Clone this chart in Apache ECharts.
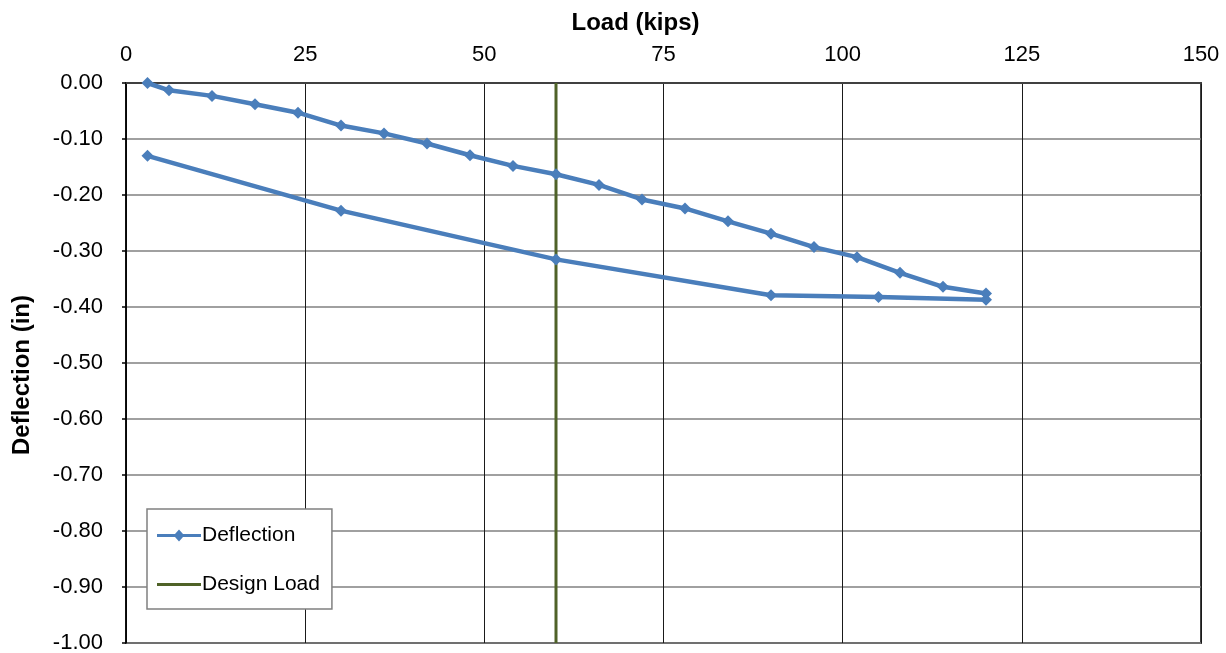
<!DOCTYPE html>
<html><head><meta charset="utf-8">
<script src="https://cdn.jsdelivr.net/npm/echarts@6/dist/echarts.min.js"></script>
<style>html,body{margin:0;padding:0;background:#fff}#c{width:1226px;height:653px}</style>
</head><body><div id="c"></div>
<script>
const loadKips = [3, 6, 12, 18, 24, 30, 36, 42, 48, 54, 60, 66, 72, 78, 84, 90, 96, 102, 108, 114, 120, 120, 105, 90, 60, 30, 3];
const deflectionIn = [0.000, -0.013, -0.023, -0.038, -0.053, -0.076, -0.090, -0.108, -0.129, -0.148, -0.163, -0.182, -0.208, -0.224, -0.247, -0.269, -0.293, -0.311, -0.339, -0.364, -0.376, -0.387, -0.382, -0.379, -0.315, -0.228, -0.130];
const designLoadX = [60, 60];
const designLoadY = [0, -1];
const xTicks = [0, 25, 50, 75, 100, 125, 150];

const chart = echarts.init(document.getElementById('c'));
const font = 'Liberation Sans, Arial, sans-serif';
chart.setOption({
  animation: false,
  grid: {left: 126, right: 25, top: 83, bottom: 10, outerBoundsMode: 'none', containLabel: false,
         show: true, borderColor: '#404040', borderWidth: 2, backgroundColor: 'transparent'},
  xAxis: {
    type: 'value', position: 'top', min: xTicks[0], max: xTicks[xTicks.length-1], interval: 25,
    name: 'Load (kips)', nameLocation: 'middle', nameGap: 48,
    nameTextStyle: {fontFamily: font, fontSize: 24, fontWeight: 'bold', color: '#000', padding: [0, 56, 0, 0]},
    axisLine: {show: true, lineStyle: {color: '#404040', width: 2}},
    axisTick: {show: false},
    axisLabel: {fontFamily: font, fontSize: 22, color: '#000', margin: 17},
    splitLine: {show: true, lineStyle: {color: '#1a1a1a', width: 1}}
  },
  yAxis: {
    type: 'value', min: -1, max: 0, interval: 0.1,
    name: 'Deflection (in)', nameLocation: 'middle', nameGap: 92, nameRotate: 90,
    nameTextStyle: {fontFamily: font, fontSize: 24, fontWeight: 'bold', color: '#000', padding: [0, 24, 0, 0]},
    axisLine: {show: true, onZero: false, lineStyle: {color: '#000', width: 1.5}},
    axisTick: {show: true, length: 4, inside: false, lineStyle: {color: '#000', width: 1.5}},
    axisLabel: {fontFamily: font, fontSize: 22, color: '#000', margin: 23, formatter: v => v.toFixed(2)},
    splitLine: {show: true, lineStyle: {color: '#808080', width: 1.5}}
  },
  legend: {
    orient: 'vertical', left: 147, top: 509,
    backgroundColor: '#fff', borderColor: '#808080', borderWidth: 1.5,
    padding: [16, 12, 14, 10], itemGap: 28, itemWidth: 44, itemHeight: 12,
    textStyle: {fontFamily: font, fontSize: 21, color: '#000', padding: [0, 0, 0, -4]},
    data: [
      {name: 'Deflection', icon: 'path://M0,4.5 L18,4.5 L22,0 L26,4.5 L44,4.5 L44,7.5 L26,7.5 L22,12 L18,7.5 L0,7.5 Z'},
      {name: 'Design Load', icon: 'path://M0,4.5 L44,4.5 L44,7.5 L0,7.5 Z'}
    ]
  },
  series: [
    {
      name: 'Deflection', type: 'line',
      data: loadKips.map((x, i) => [x, deflectionIn[i]]),
      symbol: 'diamond', symbolSize: 12,
      lineStyle: {color: '#4A7EBB', width: 4.5},
      itemStyle: {color: '#4A7EBB'}
    },
    {
      name: 'Design Load', type: 'line',
      data: designLoadX.map((x, i) => [x, designLoadY[i]]),
      symbol: 'none', showSymbol: false,
      lineStyle: {color: '#4F6228', width: 3},
      itemStyle: {color: '#4F6228'}
    }
  ]
});
</script></body></html>
